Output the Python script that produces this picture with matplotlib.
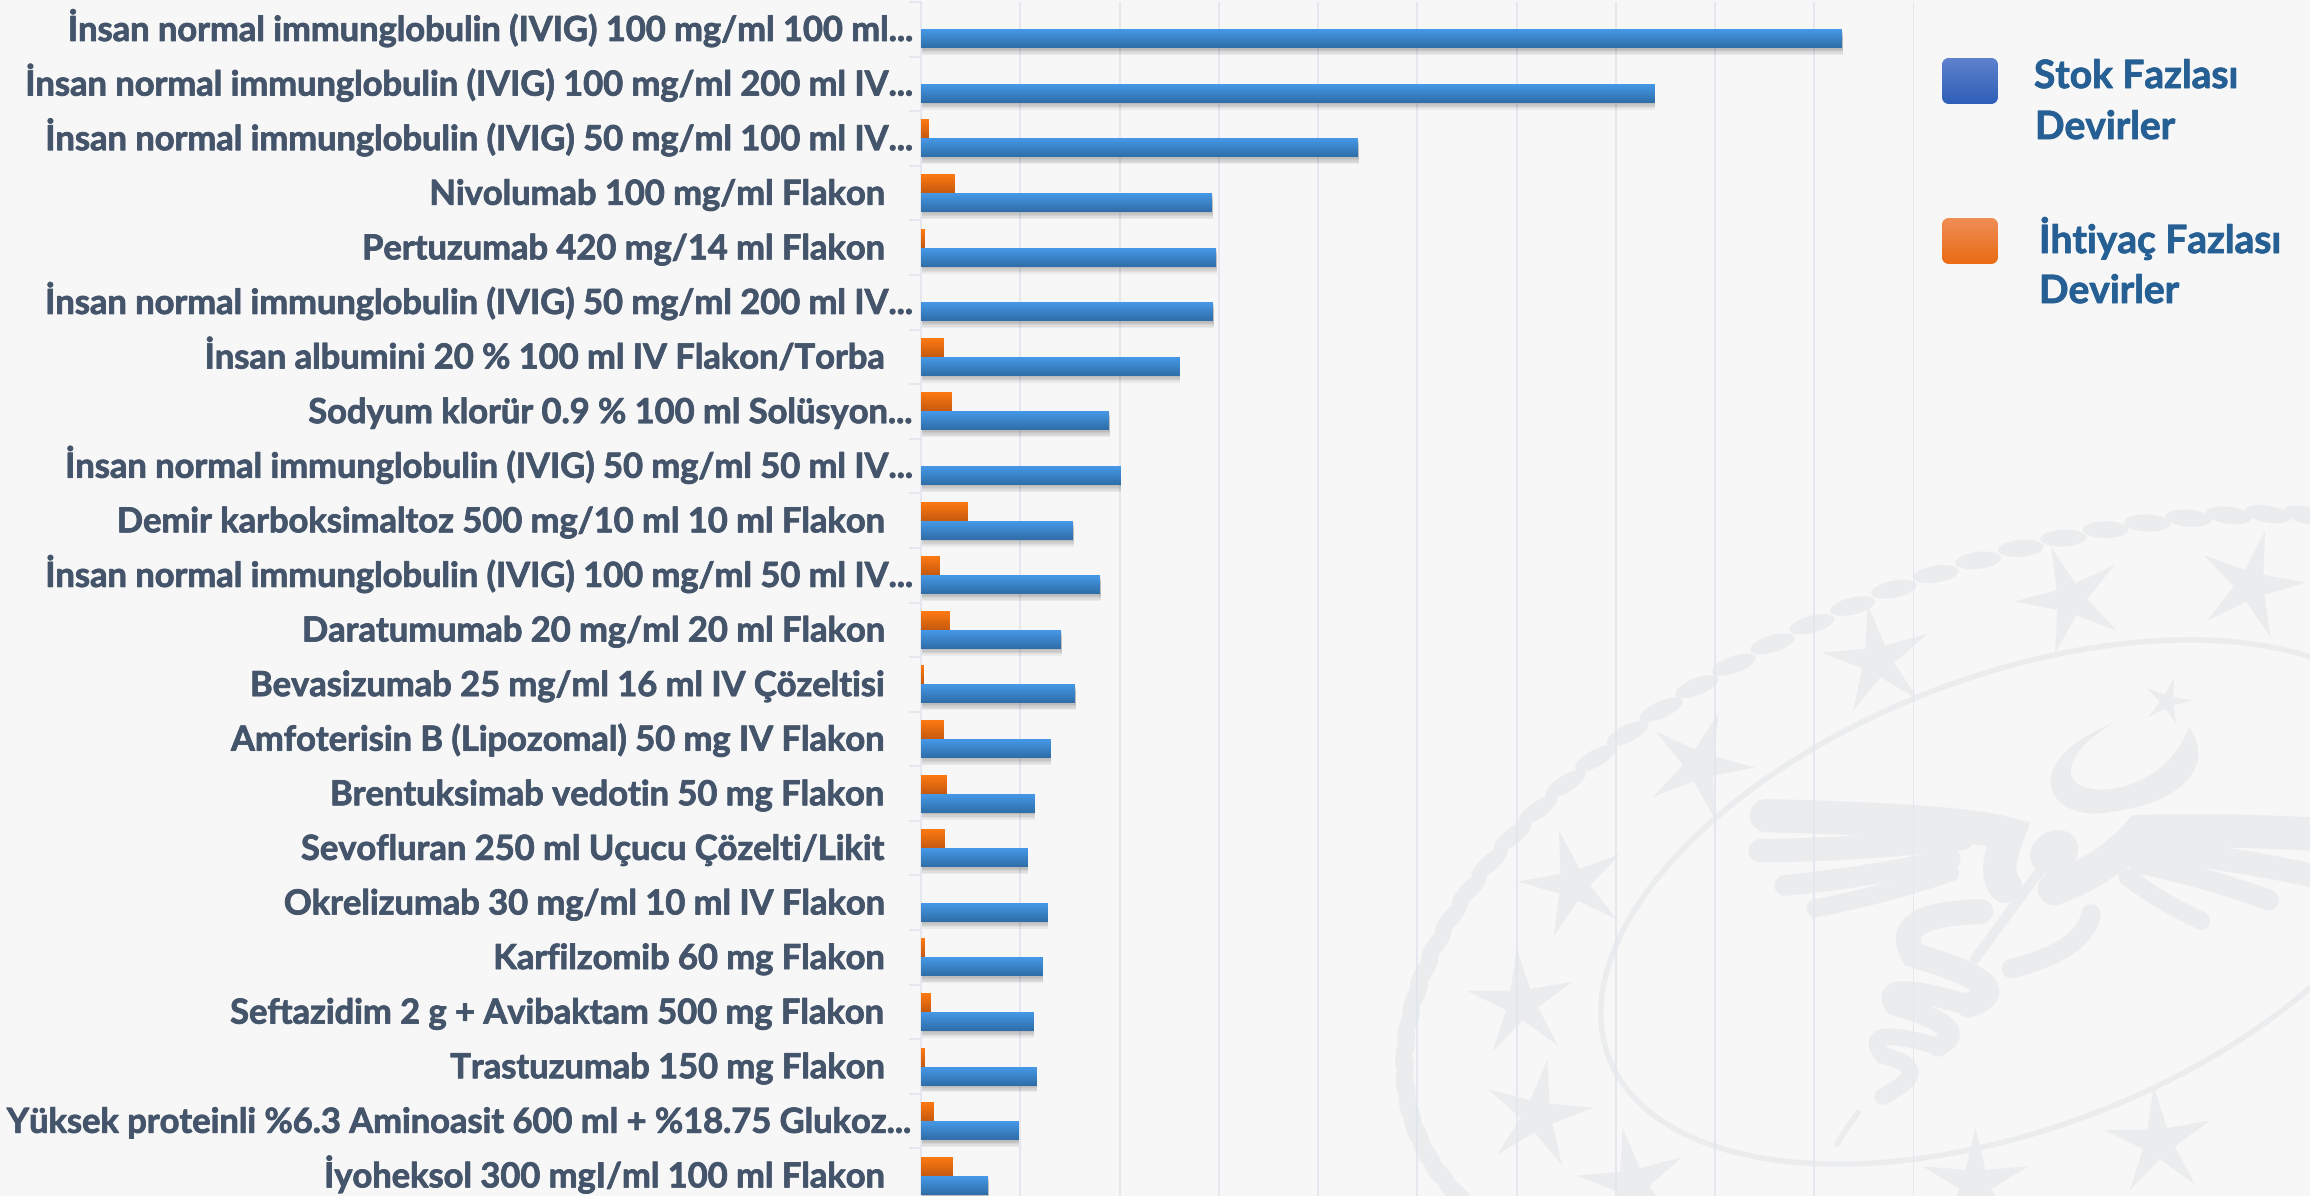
import numpy as np
import matplotlib
matplotlib.use('Agg')
import matplotlib.pyplot as plt
import matplotlib.patheffects as pe
from matplotlib.colors import LinearSegmentedColormap
from matplotlib.patches import Ellipse, FancyBboxPatch, PathPatch
from matplotlib.path import Path

plt.rcParams['font.family'] = ['Lato', 'DejaVu Sans']

# chart data (no axis numbers in the original, 100 = one gridline)
drugs = [
    'İnsan normal immunglobulin (IVIG) 100 mg/ml 100 ml...',
    'İnsan normal immunglobulin (IVIG) 100 mg/ml 200 ml IV...',
    'İnsan normal immunglobulin (IVIG) 50 mg/ml 100 ml IV...',
    'Nivolumab 100 mg/ml Flakon',
    'Pertuzumab 420 mg/14 ml Flakon',
    'İnsan normal immunglobulin (IVIG) 50 mg/ml 200 ml IV...',
    'İnsan albumini 20 % 100 ml IV Flakon/Torba',
    'Sodyum klorür 0.9 % 100 ml Solüsyon...',
    'İnsan normal immunglobulin (IVIG) 50 mg/ml 50 ml IV...',
    'Demir karboksimaltoz 500 mg/10 ml 10 ml Flakon',
    'İnsan normal immunglobulin (IVIG) 100 mg/ml 50 ml IV...',
    'Daratumumab 20 mg/ml 20 ml Flakon',
    'Bevasizumab 25 mg/ml 16 ml IV Çözeltisi',
    'Amfoterisin B (Lipozomal) 50 mg IV Flakon',
    'Brentuksimab vedotin 50 mg Flakon',
    'Sevofluran 250 ml Uçucu Çözelti/Likit',
    'Okrelizumab 30 mg/ml 10 ml IV Flakon',
    'Karfilzomib 60 mg Flakon',
    'Seftazidim 2 g + Avibaktam 500 mg Flakon',
    'Trastuzumab 150 mg Flakon',
    'Yüksek proteinli %6.3 Aminoasit 600 ml + %18.75 Glukoz...',
    'İyoheksol 300 mgI/ml 100 ml Flakon',
]
stok = [927.5, 739, 440, 293, 297, 294, 260, 189, 201, 153, 180,
        141, 155, 130, 114, 107, 127, 122, 113, 116, 98, 67.5]
ihtiyac = [0, 0, 8, 34, 4, 0, 23, 31, 0, 47, 19,
           29, 3, 23, 26, 24, 0, 4, 10, 4, 13, 32]

W, H = 2310, 1196
BG = '#f7f7f7'
MARK = '#ebecee'
LABEL_COL = '#44546a'
LEGEND_COL = '#255f93'

fig = plt.figure(figsize=(W / 100, H / 100), dpi=100, facecolor=BG)

# background layer in pixel coords: watermark seal + legend
bg = fig.add_axes([0, 0, 1, 1], zorder=0)
bg.axis('off')


def z(zx, zy):
    # position in the seal crop -> figure pixels
    return 1350 + zx / 1.633, 480 + zy / 2.19


def curve(pts, lw):
    verts = [z(*p) for p in pts]
    codes = [Path.MOVETO] + [Path.CURVE3] * (len(verts) - 1)
    if len(verts) % 2 == 0:
        codes = [Path.MOVETO, Path.LINETO] + [Path.CURVE3] * (len(verts) - 2)
    bg.add_patch(PathPatch(Path(verts, codes), fc='none', ec=MARK, lw=lw, capstyle='round'))


def star_marker(rot):
    # thinner points than the built in (5, 1) star
    ang = np.radians(np.arange(0, 360, 36) + 90 + rot)
    rad = np.where(np.arange(10) % 2 == 0, 1.0, 0.3)
    return Path(np.column_stack([rad * np.cos(ang), rad * np.sin(ang)]), closed=False)


cx, cy, rot = 2014, 902, 21
bg.add_patch(Ellipse((cx, cy), 868, 452, angle=-rot, fc='none', ec=MARK, lw=4))

# rope round the seal
a, b = 640, 335
c, s = np.cos(np.radians(rot)), np.sin(np.radians(rot))
for t in np.radians(np.arange(50, 268, 4)):
    u, v = a * np.cos(t), -b * np.sin(t)
    du, dv = -a * np.sin(t), -b * np.cos(t)
    px = cx + u * c + v * s
    py = cy - u * s + v * c
    tang = np.degrees(np.arctan2(-du * s + dv * c, du * c + dv * s))
    bg.add_patch(Ellipse((px, py), 46, 17, angle=tang + 10, fc=MARK, ec='none'))

star_big = [(2070, 599), (2250, 585), (1877, 660), (1699, 765), (1573, 884),
            (1521, 1003), (1537, 1115), (1632, 1183), (2158, 1142), (1975, 1183)]
star_rot = [20, -15, 10, -20, 15, 5, -10, 10, 5, 0]
for (sx, sy), r in zip(star_big, star_rot):
    bg.scatter(sx, sy, s=6500, marker=star_marker(r), color=MARK, linewidths=0)
bg.scatter(2167, 701, s=1300, marker=star_marker(-15), color=MARK, linewidths=0)

# wings, staff, snake, crescent
for pts, lw in [
    ([(680, 735), (1000, 745), (1075, 775), (1050, 860), (1070, 890)], 24),
    ([(670, 812), (830, 810), (1000, 785)], 17),
    ([(710, 888), (850, 870), (980, 830)], 15),
    ([(760, 938), (870, 910), (980, 860)], 13),
    ([(1150, 895), (1240, 850), (1290, 770), (1430, 765), (1568, 775)], 24),
    ([(1300, 810), (1430, 825), (1568, 865)], 17),
    ([(1290, 840), (1400, 870), (1500, 920)], 15),
    ([(1270, 870), (1330, 930), (1390, 965)], 13),
    ([(1020, 1050), (1130, 850)], 7),
    ([(1030, 945), (880, 950), (920, 1040), (1100, 1110), (1010, 1150)], 18),
    ([(1010, 1150), (860, 1090), (890, 1150), (1020, 1200), (960, 1240)], 15),
    ([(960, 1240), (830, 1190), (870, 1260), (960, 1290), (870, 1350)], 12),
    ([(1210, 950), (1200, 1030), (1080, 1070)], 14),
    ([(830, 1385), (810, 1420), (795, 1455)], 4),
]:
    curve(pts, lw)
bg.add_patch(Ellipse(z(1150, 815), 50, 42, angle=-30, fc=MARK, ec='none'))
cres = [(1250, 530), (1080, 620), (1140, 760), (1250, 725), (1340, 710), (1420, 640), (1370, 540),
        (1350, 620), (1290, 680), (1220, 678), (1150, 670), (1170, 590), (1250, 530)]
bg.add_patch(PathPatch(Path([z(*p) for p in cres], [Path.MOVETO] + [Path.CURVE4] * 12), fc=MARK, ec='none'))

# legend
grad = np.linspace(0, 1, 32).reshape(-1, 1)
for ly, top_c, bot_c in [(58, '#5e82cc', '#2f5fb8'), (218, '#ef8d55', '#ea6c14')]:
    box = FancyBboxPatch((1946, ly + 4), 48, 38, boxstyle='round,pad=4,rounding_size=8', fc=bot_c, ec='none')
    bg.add_patch(box)
    img = bg.imshow(grad, cmap=LinearSegmentedColormap.from_list('g', [top_c, bot_c]), aspect='auto',
                    extent=[1942, 1998, ly + 46, ly], interpolation='bilinear', zorder=2)
    img.set_clip_path(box)
for lx, base, line in [(2034, 88, 'Stok Fazlası'), (2035, 139, 'Devirler'),
                       (2039, 253, 'İhtiyaç Fazlası'), (2039, 303, 'Devirler')]:
    bg.text(lx, base, line, fontsize=28, fontweight='bold', color=LEGEND_COL, va='baseline', ha='left',
            path_effects=[pe.withStroke(linewidth=0.6, foreground=LEGEND_COL)])
bg.set_xlim(0, W)
bg.set_ylim(H, 0)

# bars
left, top, bottom = 921, 2, 1203
ax = fig.add_axes([left / W, (H - bottom) / H, 992.5 / W, (bottom - top) / H], zorder=1)
ax.patch.set_alpha(0)

y = np.arange(len(drugs))
bar_h = 0.348
orange_bars = ax.barh(y - bar_h / 2, ihtiyac, height=bar_h, color='#e56a10', zorder=3)
blue_bars = ax.barh(y + bar_h / 2, stok, height=bar_h, color='#3c85cc', zorder=4)

# soft shadow below the blue bars, matplotlib has no blur so stack a few
shadow = [pe.SimplePatchShadow(offset=(0.7, -k), shadow_rgbFace='k', alpha=0.05) for k in (1, 2, 3, 4, 5)]
for bar in blue_bars:
    bar.set_path_effects(shadow + [pe.Normal()])


def fill_gradient(bars, top_col, bot_col, zo):
    cmap = LinearSegmentedColormap.from_list('g', [top_col, bot_col])
    for bar in bars:
        if bar.get_width() > 0:
            ax.imshow(grad, cmap=cmap, aspect='auto', zorder=zo, interpolation='bilinear',
                      extent=[bar.get_x(), bar.get_x() + bar.get_width(),
                              bar.get_y() + bar.get_height(), bar.get_y()])


fill_gradient(orange_bars, '#ff7a12', '#c75a10', 3.5)
fill_gradient(blue_bars, '#4699e8', '#2f6ea8', 4.5)

ax.set_xlim(0, 1000)
ax.set_ylim(len(drugs) - 0.5, -0.5)

GRID = '#e1e6ed'
ax.set_xticks(np.arange(100, 1001, 100))
ax.grid(axis='x', color=GRID, lw=1.2, zorder=1)
ax.set_axisbelow(True)
ax.tick_params(axis='x', length=0, labelbottom=False)
for sp in ['top', 'right', 'bottom']:
    ax.spines[sp].set_visible(False)
ax.spines['left'].set_color(GRID)
ax.spines['left'].set_linewidth(1.2)

ax.set_yticks(np.arange(len(drugs) + 1) - 0.5, minor=True)
ax.tick_params(axis='y', which='minor', length=8.6, width=1.2, color=GRID)
ax.set_yticks(y)
ax.tick_params(axis='y', which='major', length=0, labelleft=False)
# labels on their baseline so the dotted İ does not push some rows down
for i, name in enumerate(drugs):
    # cut off labels run closer to the axis than whole ones
    pad = 6 if name.endswith('...') else 26
    ax.annotate(name, xy=(0, i), xycoords=ax.get_yaxis_transform(), xytext=(-pad, -8.4),
                textcoords='offset points', ha='right', va='baseline',
                fontsize=24.8, fontweight='bold', color=LABEL_COL, annotation_clip=False,
                path_effects=[pe.withStroke(linewidth=0.6, foreground=LABEL_COL)])

fig.savefig('out.png', dpi=100, facecolor=BG)
